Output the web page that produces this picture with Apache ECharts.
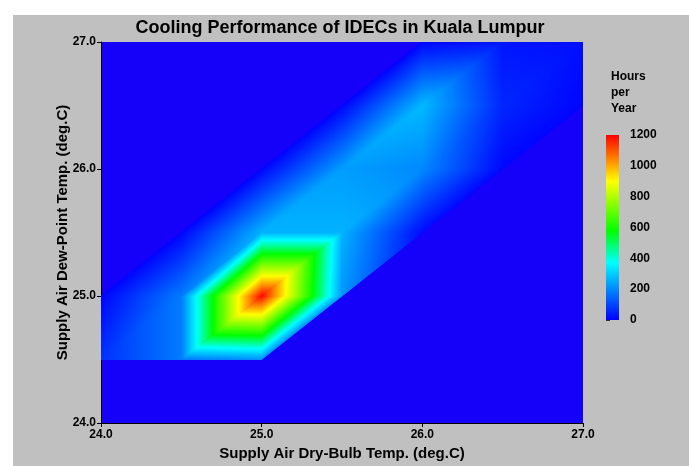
<!DOCTYPE html>
<html>
<head>
<meta charset="utf-8">
<script src="https://cdn.jsdelivr.net/npm/echarts@6.0.0/dist/echarts.min.js"></script>
<style>
  html, body { margin: 0; padding: 0; background: #ffffff; width: 689px; height: 466px; overflow: hidden; }
  #chart { position: absolute; left: 13px; top: 15px; width: 676px; height: 451px; }
</style>
</head>
<body>
<div id="chart"></div>
<script>
// ---- data (grid nodes every 0.5 deg.C; null = no hours recorded) ----
const dryBulb  = [24.0, 24.5, 25.0, 25.5, 26.0, 26.5, 27.0];
const dewPoint = [24.0, 24.5, 25.0, 25.5, 26.0, 26.5, 27.0];
const hoursDew240 = [null, null, null, null, null, null, null];
const hoursDew245 = [70, 180, 210, null, null, null, null];
const hoursDew250 = [5, 180, 1190, 220, null, null, null];
const hoursDew255 = [null, 5, 260, 260, 15, null, null];
const hoursDew260 = [null, null, 5, 230, 200, 8, null];
const hoursDew265 = [null, null, null, 5, 270, 55, 5];
const hoursDew270 = [null, null, null, null, 5, 30, 20];
const hoursRows = [hoursDew240, hoursDew245, hoursDew250, hoursDew255, hoursDew260, hoursDew265, hoursDew270];
const axisTicks = [24.0, 25.0, 26.0, 27.0];
const legendTicks = [0, 200, 400, 600, 800, 1000, 1200];
const legendTitle = 'Hours\nper\nYear';

// ---- colour scale ----
const VMIN = legendTicks[0], VMAX = legendTicks[legendTicks.length - 1];
const colorStops = [
  [0.00, [0, 0, 255]],
  [0.31, [0, 255, 255]],
  [0.48, [0, 255, 0]],
  [0.75, [255, 255, 0]],
  [1.00, [255, 0, 0]]
];
function rgb(c) { return 'rgb(' + c.map(Math.round).join(',') + ')'; }
function colorAt(t) {
  t = Math.max(0, Math.min(1, t));
  for (let k = 1; k < colorStops.length; k++) {
    const [o1, c1] = colorStops[k - 1], [o2, c2] = colorStops[k];
    if (t <= o2) {
      const f = (t - o1) / (o2 - o1);
      return rgb(c1.map((v, n) => v + (c2[n] - v) * f));
    }
  }
  return rgb(colorStops[colorStops.length - 1][1]);
}
const gradientStops = colorStops.map(s => ({ offset: s[0], color: rgb(s[1]) }));

// ---- triangles built from the grid (cells split along the rising diagonal) ----
const triangles = [];
for (let j = 0; j < dewPoint.length - 1; j++) {
  for (let i = 0; i < dryBulb.length - 1; i++) {
    const node = (ii, jj) => [dryBulb[ii], dewPoint[jj], hoursRows[jj][ii]];
    const a = node(i, j), b = node(i + 1, j), c = node(i + 1, j + 1), d = node(i, j + 1);
    [[a, b, c], [a, c, d]].forEach(tri => {
      if (tri.every(p => p[2] != null)) triangles.push([].concat(tri[0], tri[1], tri[2]));
    });
  }
}

function renderTriangle(params, api) {
  const P = [], V = [];
  for (let k = 0; k < 3; k++) {
    P.push(api.coord([api.value(3 * k), api.value(3 * k + 1)]));
    V.push(api.value(3 * k + 2));
  }
  const d1x = P[1][0] - P[0][0], d1y = P[1][1] - P[0][1];
  const d2x = P[2][0] - P[0][0], d2y = P[2][1] - P[0][1];
  const dv1 = V[1] - V[0], dv2 = V[2] - V[0];
  const det = d1x * d2y - d1y * d2x;
  let fill;
  const ga = det ? (dv1 * d2y - dv2 * d1y) / det : 0;
  const gb = det ? (d1x * dv2 - d2x * dv1) / det : 0;
  const g2 = ga * ga + gb * gb;
  if (g2 < 1e-9) {
    fill = colorAt((V[0] - VMIN) / (VMAX - VMIN));
  } else {
    const sx = P[0][0] + (VMIN - V[0]) * ga / g2, sy = P[0][1] + (VMIN - V[0]) * gb / g2;
    const ex = P[0][0] + (VMAX - V[0]) * ga / g2, ey = P[0][1] + (VMAX - V[0]) * gb / g2;
    fill = new echarts.graphic.LinearGradient(sx, sy, ex, ey, gradientStops, true);
  }
  return {
    type: 'polygon',
    shape: { points: P },
    style: { fill: fill, stroke: fill, lineWidth: 1 }
  };
}

// colour bar drawn in its own small grid, spanning VMIN..VMAX on the legend axis
function renderColorBar(params, api) {
  const p0 = api.coord([api.value(0), api.value(1)]);
  const p1 = api.coord([api.value(2), api.value(3)]);
  return {
    type: 'rect',
    shape: { x: p0[0], y: p1[1], width: p1[0] - p0[0], height: p0[1] - p1[1] },
    style: { fill: new echarts.graphic.LinearGradient(0, 1, 0, 0, gradientStops) }
  };
}

const FONT = 'Liberation Sans, Arial, sans-serif';
const chart = echarts.init(document.getElementById('chart'), null, { renderer: 'canvas' });
chart.setOption({
  animation: false,
  backgroundColor: '#c0c0c0',
  title: [
    {
      text: 'Cooling Performance of IDECs in Kuala Lumpur',
      left: 327, top: 4, padding: 0, textAlign: 'center',
      textStyle: { fontFamily: FONT, fontSize: 18, fontWeight: 'bold', color: '#000' }
    },
    {
      text: legendTitle,
      left: 598, top: 54, padding: 0,
      textStyle: { fontFamily: FONT, fontSize: 12, fontWeight: 'bold', color: '#000', lineHeight: 16 }
    }
  ],
  grid: [
    { left: 88, top: 27, width: 482, height: 386, show: true, backgroundColor: '#1500fa', borderWidth: 0 },
    { left: 593, top: 120, width: 13, height: 185 }
  ],
  xAxis: [
    {
      type: 'value', gridIndex: 0,
      min: axisTicks[0], max: axisTicks[axisTicks.length - 1], interval: axisTicks[1] - axisTicks[0],
      name: 'Supply Air Dry-Bulb Temp. (deg.C)', nameLocation: 'middle', nameGap: 23, nameMoveOverlap: false,
      nameTextStyle: { fontFamily: FONT, fontSize: 15, fontWeight: 'bold', color: '#000' },
      axisLine: { show: true, onZero: false, lineStyle: { color: '#000', width: 1 } },
      axisTick: { show: true, length: 4, lineStyle: { color: '#000' } },
      axisLabel: { margin: 6, fontFamily: FONT, fontSize: 12, fontWeight: 'bold', color: '#000', formatter: v => v.toFixed(1) },
      splitLine: { show: false }
    },
    { type: 'value', gridIndex: 1, min: 0, max: 1, show: false }
  ],
  yAxis: [
    {
      type: 'value', gridIndex: 0,
      min: axisTicks[0], max: axisTicks[axisTicks.length - 1], interval: axisTicks[1] - axisTicks[0],
      name: 'Supply Air Dew-Point Temp. (deg.C)', nameLocation: 'middle', nameGap: 31, nameMoveOverlap: false,
      nameTextStyle: { fontFamily: FONT, fontSize: 15, fontWeight: 'bold', color: '#000' },
      axisLine: { show: true, onZero: false, lineStyle: { color: '#000', width: 1 } },
      axisTick: { show: true, length: 4, lineStyle: { color: '#000' } },
      axisLabel: { margin: 5, fontFamily: FONT, fontSize: 12, fontWeight: 'bold', color: '#000', formatter: v => v.toFixed(1) },
      splitLine: { show: false }
    },
    {
      type: 'value', gridIndex: 1, position: 'right',
      min: VMIN, max: VMAX, interval: legendTicks[1] - legendTicks[0],
      axisLine: { show: false },
      axisTick: { show: true, length: 4, lineStyle: { color: '#333' } },
      axisLabel: { margin: 11, fontFamily: FONT, fontSize: 12, fontWeight: 'bold', color: '#000', formatter: v => String(v) },
      splitLine: { show: false }
    }
  ],
  series: [
    {
      type: 'custom',
      xAxisIndex: 0, yAxisIndex: 0,
      renderItem: renderTriangle,
      dimensions: ['x0', 'y0', 'v0', 'x1', 'y1', 'v1', 'x2', 'y2', 'v2'],
      encode: { x: [0, 3, 6], y: [1, 4, 7], tooltip: [2, 5, 8] },
      data: triangles,
      clip: true
    },
    {
      type: 'custom',
      xAxisIndex: 1, yAxisIndex: 1,
      renderItem: renderColorBar,
      encode: { x: [0, 2], y: [1, 3] },
      data: [[0, VMIN, 1, VMAX]],
      silent: true
    }
  ]
});
</script>
</body>
</html>
